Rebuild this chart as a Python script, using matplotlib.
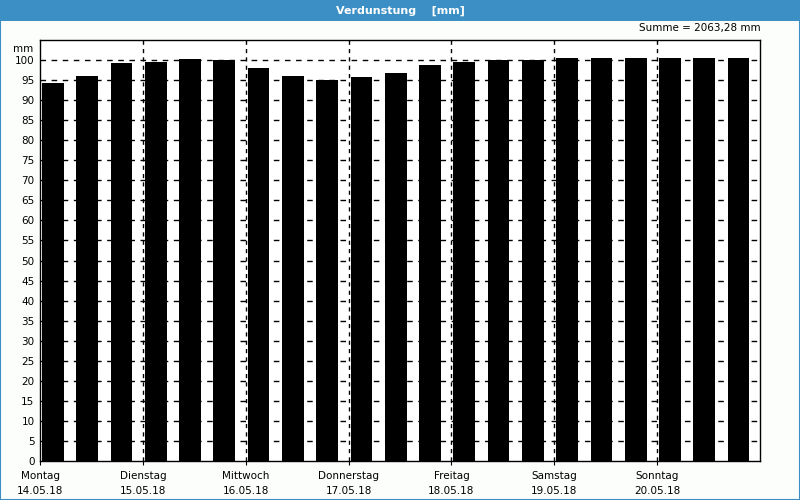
import matplotlib
matplotlib.use('Agg')
import matplotlib.pyplot as plt
from matplotlib.patches import Rectangle
import numpy as np

# Verdunstung per 8h slot, 3 slots per day
werte = [94.4, 96.1, 99.2,
         99.4, 100.3, 100.0,
         98.1, 96.1, 95.1,
         95.7, 96.7, 98.7,
         99.4, 99.9, 100.1,
         100.4, 100.4, 100.4,
         100.4, 100.4, 100.4]
tage = ['Montag', 'Dienstag', 'Mittwoch', 'Donnerstag', 'Freitag', 'Samstag', 'Sonntag']
daten = ['14.05.18', '15.05.18', '16.05.18', '17.05.18', '18.05.18', '19.05.18', '20.05.18']
y_ticks = list(range(0, 101, 5))
summe_text = 'Summe = 2063,28 mm'

plt.rcParams['font.family'] = ['DejaVu Sans']
blau = '#3c8fc4'

fig = plt.figure(figsize=(8, 5), dpi=100, facecolor='#fcfefc')
ax = fig.add_axes([0.05, 0.078, 0.90, 0.842])
ax.set_facecolor('white')

n = len(werte)
x = np.arange(n)
ax.bar(x + 0.06, werte, width=0.63, align='edge', color='black', zorder=3)

ax.set_xlim(0, n)
ax.set_ylim(0, 105)

# horizontal dashed grid
for y in y_ticks[1:]:
    ax.axhline(y, color='black', lw=1, ls=(0, (4, 4)), zorder=1)
# vertical dashed day separators
for d in range(1, len(tage)):
    ax.axvline(d * 3, color='black', lw=1, ls=(0, (3, 3)), zorder=1)

ax.set_yticks(y_ticks)
ax.set_yticklabels([str(v) for v in y_ticks], fontsize=7.5)
ax.tick_params(axis='y', length=0, pad=4)
ax.set_xticks([d * 3 for d in range(len(tage))])
ax.set_xticklabels([f'{t}\n{dt}' for t, dt in zip(tage, daten)], fontsize=7.5, linespacing=1.7)
ax.tick_params(axis='x', length=3, pad=4)

for s in ax.spines.values():
    s.set_linewidth(1)
    s.set_color('black')

ax.text(-0.009, 0.99, 'mm', transform=ax.transAxes, ha='right', va='top', fontsize=7.5)
fig.text(0.951, 0.935, summe_text, ha='right', va='bottom', fontsize=7.5)

# title bar + frame
fig.patches.append(Rectangle((0, 0.959), 1, 0.041, transform=fig.transFigure,
                             facecolor=blau, edgecolor='none', zorder=0))
fig.patches.append(Rectangle((0.0006, 0.001), 0.9988, 0.998, transform=fig.transFigure,
                             facecolor='none', edgecolor=blau, lw=1.5, zorder=5))
fig.text(0.5, 0.979, 'Verdunstung    [mm]', ha='center', va='center',
         color='white', fontsize=8, fontweight='bold')

fig.savefig('out.png', dpi=100, facecolor=fig.get_facecolor())
